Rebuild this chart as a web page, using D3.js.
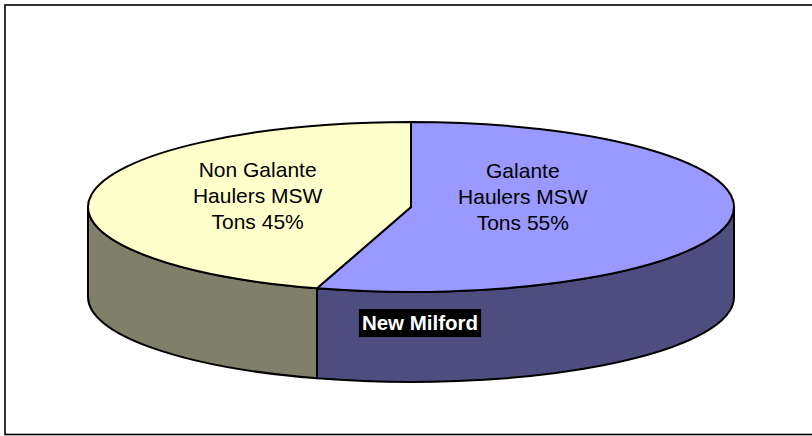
<!DOCTYPE html>
<html>
<head>
<meta charset="utf-8">
<script src="https://cdn.jsdelivr.net/npm/d3@7"></script>
<style>
  body { margin: 0; background: #fff; }
  svg { display: block; font-family: "Liberation Sans", Arial, sans-serif; }
</style>
</head>
<body>
<svg id="chart" width="812" height="436"></svg>
<script>
// slice data (clockwise from 12 o'clock)
const categories = ["Galante Haulers MSW Tons", "Non Galante Haulers MSW Tons"]
const labelLines = [["Galante", "Haulers MSW", "Tons 55%"], ["Non Galante", "Haulers MSW", "Tons 45%"]]
const shares = [54.7, 45.3]
const title = "New Milford"

const topColors = ["#9999ff", "#ffffcc"]
const sideColors = ["#4d4d80", "#80806a"]

// ellipse geometry
const cx = 411, cy = 207, rx = 323, ry = 85, depth = 90

const svg = d3.select("#chart")

// frame
svg.append("rect")
    .attr("x", 5).attr("y", 5)
    .attr("width", 830).attr("height", 429.5)
    .attr("fill", "none")
    .attr("stroke", "#000")
    .attr("stroke-width", 1.6)

const pie = d3.pie().sort(null).value(d => d)
const arcs = pie(shares)

// point on the top ellipse for angle a (radians, clockwise from top)
function pt(a, dy) {
    return [cx + rx * Math.sin(a), cy - ry * Math.cos(a) + (dy || 0)]
}

// side walls, only the front half (90deg .. 270deg) is visible
const frontStart = Math.PI / 2, frontEnd = Math.PI * 1.5
arcs.forEach(function(d, i) {
    let a0 = Math.max(d.startAngle, frontStart)
    let a1 = Math.min(d.endAngle, frontEnd)
    if (a1 <= a0) return
    let p0 = pt(a0), p1 = pt(a1), q1 = pt(a1, depth), q0 = pt(a0, depth)
    let path = "M" + p0 + " A" + rx + "," + ry + " 0 0 1 " + p1 +
        " L" + q1 + " A" + rx + "," + ry + " 0 0 0 " + q0 + " Z"
    svg.append("path")
        .attr("d", path)
        .attr("fill", sideColors[i])
        .attr("stroke", "#000")
        .attr("stroke-width", 2)
        .attr("stroke-linejoin", "round")
})

// top faces
arcs.forEach(function(d, i) {
    let p0 = pt(d.startAngle), p1 = pt(d.endAngle)
    let large = (d.endAngle - d.startAngle) > Math.PI ? 1 : 0
    let path = "M" + cx + "," + cy + " L" + p0 + " A" + rx + "," + ry + " 0 " + large + " 1 " + p1 + " Z"
    svg.append("path")
        .attr("d", path)
        .attr("fill", topColors[i])
        .attr("stroke", "#000")
        .attr("stroke-width", 2)
        .attr("stroke-linejoin", "round")
})

// labels inside the slices
const labelFrac = [0.35, 0.48]
arcs.forEach(function(d, i) {
    let mid = (d.startAngle + d.endAngle) / 2
    let x = cx + rx * labelFrac[i] * Math.sin(mid)
    let y = cy - 11
    let t = svg.append("text")
        .attr("text-anchor", "middle")
        .attr("font-size", "21px")
        .attr("fill", "#000")
    labelLines[i].forEach(function(line, j) {
        t.append("tspan")
            .attr("x", x)
            .attr("y", y + (j - 1) * 26 + 7 + (i == 0 ? 1 : 0))
            .text(line)
    })
})

// title box
const tg = svg.append("g")
const tt = tg.append("text")
    .attr("x", 420).attr("y", 330)
    .attr("text-anchor", "middle")
    .attr("font-size", "20.5px")
    .attr("font-weight", "bold")
    .attr("fill", "#fff")
    .text(title)
const bb = tt.node().getBBox()
tg.insert("rect", "text")
    .attr("x", bb.x - 3).attr("y", 309)
    .attr("width", bb.width + 6).attr("height", 28)
    .attr("fill", "#000")
</script>
</body>
</html>
